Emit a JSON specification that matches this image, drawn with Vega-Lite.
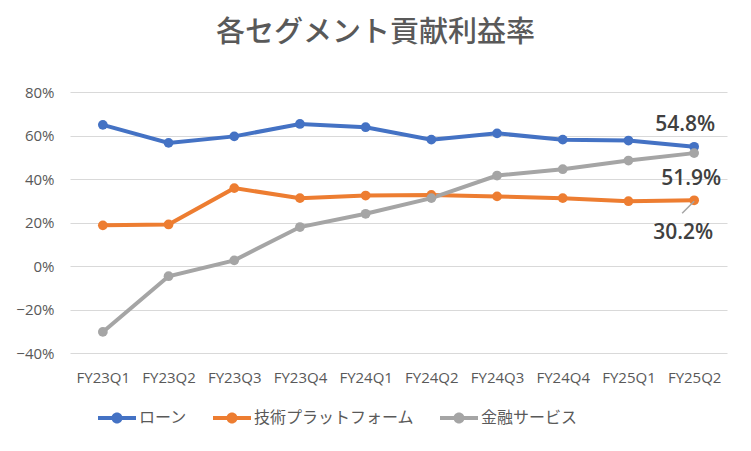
{
  "$schema": "https://vega.github.io/schema/vega-lite/v6.json",
  "autosize": {"type": "none"},
  "padding": {"left": 70, "top": 92, "right": 24, "bottom": 98},
  "width": 657,
  "height": 261,
  "background": "#ffffff",
  "title": {
    "text": "各セグメント貢献利益率",
    "fontSize": 29,
    "fontWeight": 500,
    "color": "#595959",
    "font": "Noto Sans CJK JP",
    "anchor": "middle",
    "dx": -23,
    "offset": 37
  },
  "data": {
    "values": [
      {"q": "FY23Q1", "s": "ローン", "v": 0.649},
      {"q": "FY23Q2", "s": "ローン", "v": 0.566},
      {"q": "FY23Q3", "s": "ローン", "v": 0.596},
      {"q": "FY23Q4", "s": "ローン", "v": 0.653},
      {"q": "FY24Q1", "s": "ローン", "v": 0.638},
      {"q": "FY24Q2", "s": "ローン", "v": 0.581},
      {"q": "FY24Q3", "s": "ローン", "v": 0.610},
      {"q": "FY24Q4", "s": "ローン", "v": 0.581},
      {"q": "FY25Q1", "s": "ローン", "v": 0.577},
      {"q": "FY25Q2", "s": "ローン", "v": 0.548},
      {"q": "FY23Q1", "s": "技術プラットフォーム", "v": 0.187},
      {"q": "FY23Q2", "s": "技術プラットフォーム", "v": 0.191},
      {"q": "FY23Q3", "s": "技術プラットフォーム", "v": 0.358},
      {"q": "FY23Q4", "s": "技術プラットフォーム", "v": 0.312},
      {"q": "FY24Q1", "s": "技術プラットフォーム", "v": 0.324},
      {"q": "FY24Q2", "s": "技術プラットフォーム", "v": 0.327},
      {"q": "FY24Q3", "s": "技術プラットフォーム", "v": 0.320},
      {"q": "FY24Q4", "s": "技術プラットフォーム", "v": 0.312},
      {"q": "FY25Q1", "s": "技術プラットフォーム", "v": 0.298},
      {"q": "FY25Q2", "s": "技術プラットフォーム", "v": 0.302},
      {"q": "FY23Q1", "s": "金融サービス", "v": -0.303},
      {"q": "FY23Q2", "s": "金融サービス", "v": -0.047},
      {"q": "FY23Q3", "s": "金融サービス", "v": 0.026},
      {"q": "FY23Q4", "s": "金融サービス", "v": 0.179},
      {"q": "FY24Q1", "s": "金融サービス", "v": 0.240},
      {"q": "FY24Q2", "s": "金融サービス", "v": 0.312},
      {"q": "FY24Q3", "s": "金融サービス", "v": 0.416},
      {"q": "FY24Q4", "s": "金融サービス", "v": 0.445},
      {"q": "FY25Q1", "s": "金融サービス", "v": 0.485},
      {"q": "FY25Q2", "s": "金融サービス", "v": 0.519}
    ]
  },
  "encoding": {
    "x": {
      "field": "q",
      "type": "ordinal",
      "title": null,
      "scale": {"type": "point", "padding": 0.5},
      "axis": {
        "labelAngle": 0,
        "ticks": false,
        "domain": false,
        "labelPadding": 17,
        "labelFontSize": 15,
        "labelColor": "#595959",
        "labelFont": "Open Sans"
      }
    },
    "y": {
      "field": "v",
      "type": "quantitative",
      "title": null,
      "scale": {"domain": [-0.4, 0.8], "nice": false},
      "axis": {
        "values": [-0.4, -0.2, 0, 0.2, 0.4, 0.6, 0.8],
        "format": ".0%",
        "ticks": false,
        "domain": false,
        "gridColor": "#D9D9D9",
        "gridWidth": 1,
        "labelPadding": 16,
        "labelFontSize": 15,
        "labelColor": "#595959",
        "labelFont": "Open Sans"
      }
    }
  },
  "layer": [
    {
      "mark": {"type": "line", "strokeWidth": 4, "point": {"filled": true, "size": 95}},
      "encoding": {
        "color": {
          "field": "s",
          "type": "nominal",
          "scale": {
            "domain": ["ローン", "技術プラットフォーム", "金融サービス"],
            "range": ["#4472C4", "#ED7D31", "#A5A5A5"]
          },
          "legend": {
            "title": null,
            "orient": "none",
            "direction": "horizontal",
            "legendX": 28,
            "legendY": 307,
            "symbolType": "M-1,-0.1L1,-0.1L1,0.1L-1,0.1Z M-0.29,0A0.29,0.29 0 1,1 0.29,0A0.29,0.29 0 1,1 -0.29,0Z",
            "symbolSize": 1444,
            "symbolStrokeWidth": 0,
            "labelFontSize": 16,
            "labelColor": "#595959",
            "labelFont": "Noto Sans CJK JP",
            "labelOffset": 3,
            "columnPadding": 25,
            "labelLimit": 300,
            "encode": {
              "symbols": {"update": {"fill": {"scale": "color", "field": "value"}, "fillOpacity": {"value": 1}}}
            }
          }
        }
      }
    },
    {
      "transform": [{"filter": "datum.q === 'FY25Q2' && datum.s === '技術プラットフォーム'"}],
      "mark": {"type": "rule", "color": "#A5A5A5", "strokeWidth": 1.5, "x2Offset": -12, "y2Offset": 13, "yOffset": 1},
      "encoding": {
        "x2": {"field": "q"},
        "y2": {"field": "v"}
      }
    },
    {
      "transform": [{"filter": "datum.q === 'FY25Q2' && datum.s === 'ローン'"}],
      "mark": {"type": "text", "dx": -9, "dy": -22, "fontSize": 21, "fontWeight": 600, "color": "#404040", "font": "Open Sans"},
      "encoding": {"text": {"field": "v", "format": ".1%"}}
    },
    {
      "transform": [{"filter": "datum.q === 'FY25Q2' && datum.s === '金融サービス'"}],
      "mark": {"type": "text", "dx": -3, "dy": 26, "fontSize": 21, "fontWeight": 600, "color": "#404040", "font": "Open Sans"},
      "encoding": {"text": {"field": "v", "format": ".1%"}}
    },
    {
      "transform": [{"filter": "datum.q === 'FY25Q2' && datum.s === '技術プラットフォーム'"}],
      "mark": {"type": "text", "dx": -11, "dy": 33, "fontSize": 21, "fontWeight": 600, "color": "#404040", "font": "Open Sans"},
      "encoding": {"text": {"field": "v", "format": ".1%"}}
    }
  ],
  "config": {
    "view": {"stroke": null},
    "font": "Noto Sans CJK JP"
  }
}
